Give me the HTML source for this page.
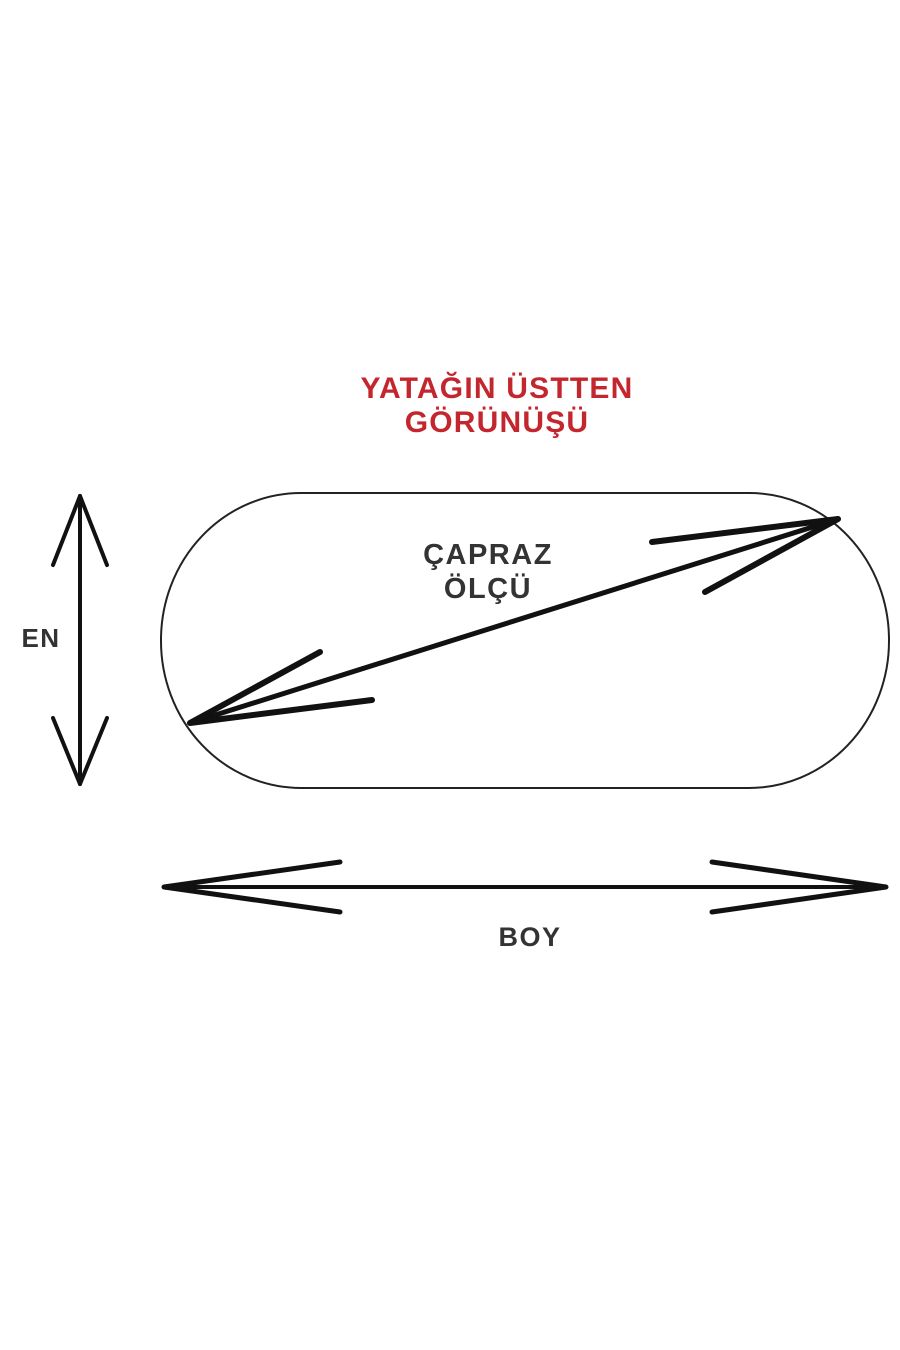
<!DOCTYPE html>
<html><head><style>
html,body{margin:0;padding:0;background:#fff;}
svg{display:block}
text{font-family:"Liberation Sans",sans-serif;font-weight:bold;}
</style></head><body>
<svg width="900" height="1350" viewBox="0 0 900 1350" xmlns="http://www.w3.org/2000/svg">
<rect width="900" height="1350" fill="#fff"/>
<text x="497" y="398" font-size="30" fill="#c4262e" text-anchor="middle" letter-spacing="1.2">YATAĞIN ÜSTTEN</text>
<text x="497" y="432" font-size="30" fill="#c4262e" text-anchor="middle" letter-spacing="1.2">GÖRÜNÜŞÜ</text>
<rect x="161" y="493" width="728" height="295" rx="140" ry="147" fill="none" stroke="#222" stroke-width="2"/>
<g stroke="#111" stroke-linecap="round" fill="none">
<line x1="190" y1="723" x2="838" y2="519" stroke-width="5"/>
<path d="M190 723 L320 652 M190 723 L372 700 M838 519 L652 542 M838 519 L705 592" stroke-width="6"/>
<line x1="80" y1="496" x2="80" y2="784" stroke-width="4"/>
<path d="M80 496 L53 565 M80 496 L107 565 M80 784 L53 718 M80 784 L107 718" stroke-width="4"/>
<line x1="164" y1="887" x2="886" y2="887" stroke-width="4"/>
<path d="M164 887 L340 862 M164 887 L340 912 M886 887 L712 862 M886 887 L712 912" stroke-width="5"/>
</g>
<text x="488" y="564" font-size="29" fill="#333" text-anchor="middle" letter-spacing="1.5">ÇAPRAZ</text>
<text x="488" y="598" font-size="29" fill="#333" text-anchor="middle" letter-spacing="1.5">ÖLÇÜ</text>
<text x="41" y="647" font-size="26" fill="#333" text-anchor="middle" letter-spacing="1.5">EN</text>
<text x="530" y="946" font-size="27" fill="#333" text-anchor="middle" letter-spacing="1.5">BOY</text>
</svg>
</body></html>
